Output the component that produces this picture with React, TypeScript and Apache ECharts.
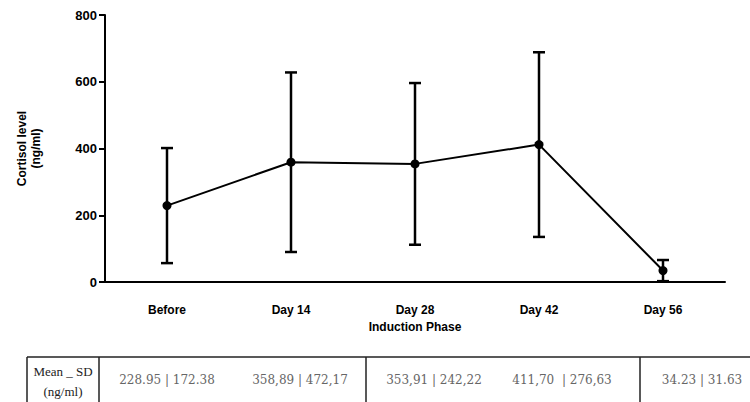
import React, { useEffect, useRef } from "react";
import * as echarts from "echarts";

// Sampling days of the induction phase
const categories = ["Before", "Day 14", "Day 28", "Day 42", "Day 56"];
// Mean cortisol (ng/ml)
const means = [228.95, 358.89, 353.91, 411.7, 34.23];
// Half-length of each error bar (ng/ml)
const errors = [172.38, 269.0, 242.22, 276.63, 31.63];
// Summary row printed under the plot
const tableLabels = [
  "228.95 | 172.38",
  "358,89 | 472,17",
  "353,91 | 242,22",
  "411,70  | 276,63",
  "34.23 | 31.63",
];
const yTicks = [0, 200, 400, 600, 800];

const SANS = "'Liberation Sans', Arial, sans-serif";
const SERIF = "'Liberation Serif', 'Times New Roman', serif";
const WIDE_SERIF = "'DejaVu Serif', serif";

export default function App() {
  const ref = useRef<HTMLDivElement>(null);

  useEffect(() => {
    if (!ref.current) return;
    const chart = echarts.init(ref.current, null, { renderer: "svg" });

    const errData = means.map((m, i) => [i, m - errors[i], m + errors[i]]);

    const tableTop = 357;
    const tableBottom = 402;
    const tableLineStyle = { stroke: "#222", lineWidth: 1.5 };
    const tableXs = [27, 99, 366, 640];
    const labelCenters = [167, 300, 434, 562, 702];

    const graphic: any[] = [];
    tableXs.forEach((x) => {
      graphic.push({
        type: "line",
        shape: { x1: x, y1: tableTop, x2: x, y2: tableBottom },
        style: tableLineStyle,
        silent: true,
      });
    });
    graphic.push({
      type: "line",
      shape: { x1: 27, y1: tableTop, x2: 750, y2: tableTop },
      style: tableLineStyle,
      silent: true,
    });
    graphic.push({
      type: "text",
      x: 63,
      y: 371,
      style: {
        text: "Mean _ SD",
        font: `13px ${SERIF}`,
        fill: "#222",
        align: "center",
        verticalAlign: "middle",
      },
    });
    graphic.push({
      type: "text",
      x: 63,
      y: 391,
      style: {
        text: "(ng/ml)",
        font: `13px ${SERIF}`,
        fill: "#222",
        align: "center",
        verticalAlign: "middle",
      },
    });
    tableLabels.forEach((t, i) => {
      graphic.push({
        type: "text",
        x: labelCenters[i],
        y: 380,
        style: {
          text: t,
          font: `12px ${WIDE_SERIF}`,
          fill: "#666",
          align: "center",
          verticalAlign: "middle",
        },
      });
    });

    chart.setOption({
      animation: false,
      backgroundColor: "#fff",
      grid: { left: 105, right: 25, top: 15, bottom: 120 },
      xAxis: {
        type: "category",
        data: categories,
        boundaryGap: true,
        name: "Induction Phase",
        nameLocation: "middle",
        nameGap: 35,
        nameTextStyle: { fontFamily: SANS, fontWeight: "bold", fontSize: 12, color: "#000" },
        axisLine: { lineStyle: { color: "#000", width: 2 } },
        axisTick: { alignWithLabel: true, length: 6, lineStyle: { color: "#000", width: 2 } },
        axisLabel: { fontFamily: SANS, fontWeight: "bold", fontSize: 12, color: "#000", margin: 22 },
        splitLine: { show: false },
      },
      yAxis: {
        type: "value",
        min: yTicks[0],
        max: yTicks[yTicks.length - 1],
        interval: 200,
        name: "Cortisol level\n(ng/ml)",
        nameLocation: "middle",
        nameGap: 62,
        nameRotate: 90,
        nameTextStyle: {
          fontFamily: SANS,
          fontWeight: "bold",
          fontSize: 12,
          color: "#000",
          lineHeight: 14,
        },
        axisLine: { show: true, lineStyle: { color: "#000", width: 2 } },
        axisTick: { show: true, length: 6, lineStyle: { color: "#000", width: 2 } },
        axisLabel: { fontFamily: SANS, fontWeight: "bold", fontSize: 13, color: "#000", margin: 8 },
        splitLine: { show: false },
      },
      series: [
        {
          type: "custom",
          data: errData,
          z: 2,
          renderItem: (params: any, api: any) => {
            const x = api.coord([api.value(0), 0])[0];
            const lo = api.coord([api.value(0), api.value(1)])[1];
            const hi = api.coord([api.value(0), api.value(2)])[1];
            const cap = 6;
            const style = { stroke: "#000", lineWidth: 2.5 };
            return {
              type: "group",
              children: [
                { type: "line", shape: { x1: x, y1: lo, x2: x, y2: hi }, style },
                { type: "line", shape: { x1: x - cap, y1: hi, x2: x + cap, y2: hi }, style },
                { type: "line", shape: { x1: x - cap, y1: lo, x2: x + cap, y2: lo }, style },
              ],
            };
          },
        },
        {
          type: "line",
          data: means,
          z: 3,
          symbol: "circle",
          symbolSize: 9,
          itemStyle: { color: "#000" },
          lineStyle: { color: "#000", width: 2 },
        },
      ],
      graphic,
    });

    return () => chart.dispose();
  }, []);

  return (
    <div
      ref={ref}
      style={{ position: "fixed", left: 0, top: 0, width: 750, height: 402 }}
    />
  );
}
